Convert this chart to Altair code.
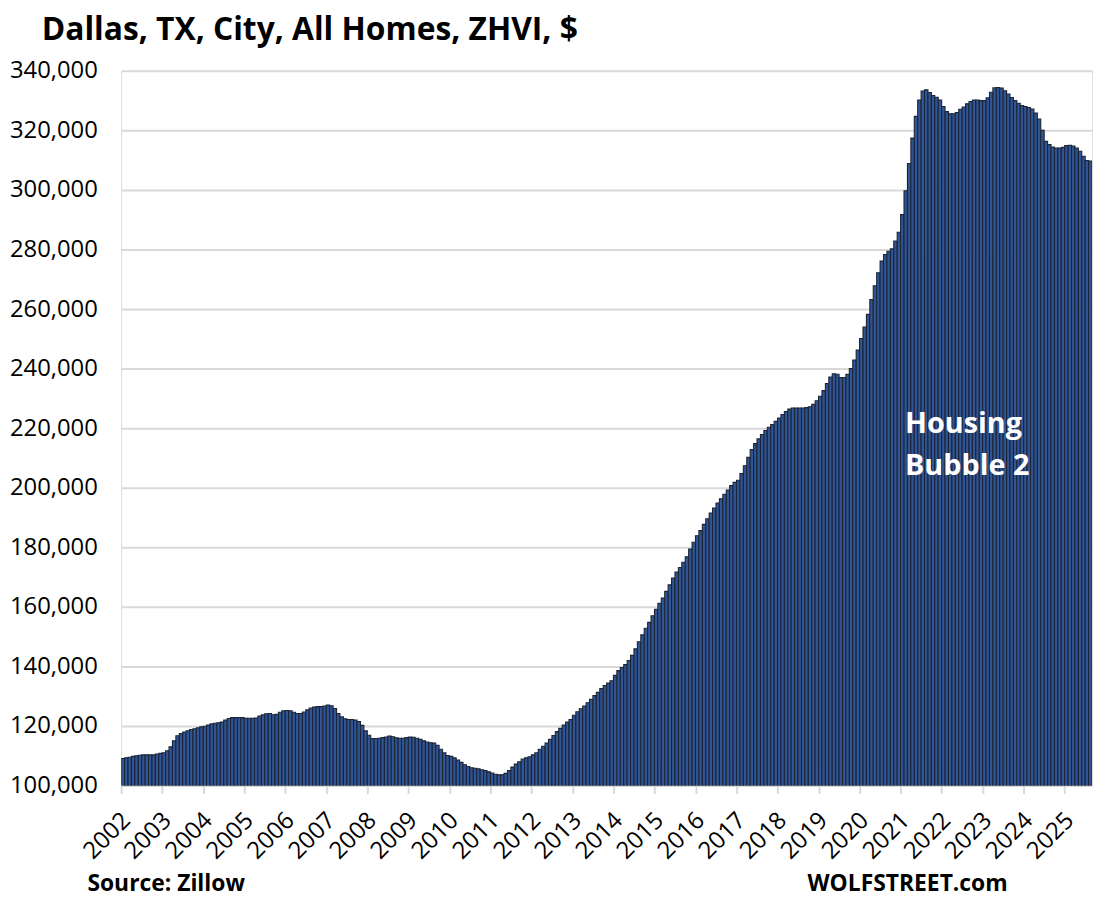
import altair as alt
import pandas as pd

# ---- data (thousands of $), Dallas ZHVI monthly from Jan 2002 ----
start_year = 2002
v2002 = [109.1, 109.3, 109.5, 109.8, 110.0, 110.2, 110.3, 110.3, 110.3, 110.3, 110.6, 110.8]
v2003 = [111.0, 111.7, 113.0, 115.0, 116.7, 117.5, 118.0, 118.4, 118.8, 119.1, 119.4, 119.7]
v2004 = [119.9, 120.3, 120.7, 120.9, 121.1, 121.3, 122.0, 122.5, 122.8, 122.8, 122.8, 122.8]
v2005 = [122.6, 122.6, 122.6, 122.7, 123.3, 123.8, 124.1, 124.2, 123.8, 123.9, 124.6, 125.1]
v2006 = [125.2, 125.1, 124.6, 124.2, 124.2, 124.7, 125.4, 126.0, 126.4, 126.5, 126.5, 126.7]
v2007 = [127.0, 126.8, 125.9, 124.2, 123.1, 122.4, 122.2, 122.2, 122.0, 121.5, 120.2, 118.4]
v2008 = [116.9, 115.8, 115.8, 115.9, 116.1, 116.3, 116.6, 116.4, 116.0, 115.9, 115.9, 116.1]
v2009 = [116.3, 116.2, 115.9, 115.5, 115.0, 114.6, 114.4, 114.3, 113.5, 112.2, 111.0, 110.1]
v2010 = [109.8, 109.3, 108.6, 107.8, 107.0, 106.4, 106.0, 105.8, 105.6, 105.3, 105.0, 104.6]
v2011 = [104.2, 103.8, 103.6, 103.6, 104.1, 105.0, 106.2, 107.2, 108.0, 108.9, 109.3, 109.7]
v2012 = [110.3, 111.0, 112.2, 113.2, 114.3, 115.5, 116.8, 118.1, 119.2, 120.3, 121.3, 122.2]
v2013 = [123.6, 124.8, 125.8, 126.7, 127.8, 129.0, 130.2, 131.3, 132.6, 133.6, 134.4, 135.2]
v2014 = [137.0, 138.6, 139.6, 140.6, 142.0, 143.7, 145.9, 148.3, 150.6, 152.8, 154.8, 157.0]
v2015 = [159.2, 161.2, 163.0, 165.2, 167.4, 169.7, 171.7, 173.2, 175.0, 176.8, 179.4, 181.7]
v2016 = [183.9, 185.6, 187.7, 189.6, 191.5, 193.2, 194.9, 196.3, 197.8, 199.2, 200.7, 201.8]
v2017 = [202.5, 204.8, 207.4, 210.2, 212.8, 214.8, 216.4, 217.9, 219.2, 220.3, 221.2, 222.3]
v2018 = [223.4, 224.6, 225.6, 226.4, 226.8, 226.8, 226.8, 226.8, 226.9, 227.2, 228.0, 229.2]
v2019 = [230.7, 232.6, 235.0, 237.2, 238.3, 238.1, 237.0, 237.0, 238.1, 240.0, 242.9, 246.2]
v2020 = [250.1, 254.0, 258.2, 263.2, 267.8, 272.2, 276.1, 278.3, 279.4, 280.2, 282.8, 285.8]
v2021 = [291.7, 299.7, 308.9, 317.4, 324.7, 330.2, 333.2, 333.6, 332.7, 331.7, 331.1, 330.2]
v2022 = [328.0, 326.3, 325.6, 325.6, 326.0, 327.1, 327.8, 328.9, 329.7, 330.2, 330.2, 330.0]
v2023 = [330.0, 330.9, 332.8, 334.3, 334.4, 334.2, 333.3, 332.2, 331.0, 330.0, 329.1, 328.3]
v2024 = [328.0, 327.7, 327.2, 325.8, 323.8, 320.0, 316.3, 315.2, 314.4, 314.1, 314.1, 314.3]
v2025 = [314.9, 315.0, 314.7, 314.1, 313.0, 311.3, 309.9, 309.7]

years = [v2002, v2003, v2004, v2005, v2006, v2007, v2008, v2009, v2010, v2011, v2012,
         v2013, v2014, v2015, v2016, v2017, v2018, v2019, v2020, v2021, v2022, v2023,
         v2024, v2025]

y_ticks = list(range(100000, 340001, 20000))
year_ticks = [12 * k for k in range(len(years))]

title_text = "Dallas, TX, City, All Homes, ZHVI, $"
source_text = "Source: Zillow"
brand_text = "WOLFSTREET.com"
note_lines = ["Housing", "Bubble 2"]
note_x = [229.3, 229.3]
note_y = [218300, 204300]

values = [v * 1000 for yr in years for v in yr]
df = pd.DataFrame({
    "i": list(range(len(values))),
    "i2": [k + 1 for k in range(len(values))],
    "value": values,
})

FONT = "Open Sans"
GRID = "#d9d9d9"

x_scale = alt.Scale(domain=[0, len(values)], nice=False, zero=False)
y_scale = alt.Scale(domain=[100000, 340000], nice=False, zero=False)

bars = alt.Chart(df).mark_bar(
    color="#2f5597", stroke="#1d2433", strokeWidth=1.1, clip=True
).encode(
    x=alt.X("i:Q", scale=x_scale, title=None,
            axis=alt.Axis(values=year_ticks, labelExpr="'' + (2002 + datum.value / 12)",
                          grid=False, domainColor=GRID, domainWidth=2,
                          tickColor=GRID, tickWidth=2, tickSize=8,
                          labelAngle=-45, labelAlign="right", labelBaseline="middle",
                          labelOffset=5, labelPadding=23, labelFont=FONT,
                          labelFontSize=24, labelColor="#000000", labelFlush=False,
                          labelOverlap=False)),
    x2="i2:Q",
    y=alt.Y("value:Q", scale=y_scale, title=None,
            axis=alt.Axis(values=y_ticks, format=",.0f", grid=True, gridColor=GRID,
                          gridWidth=2, domain=False, ticks=False, labelPadding=24,
                          labelFont=FONT, labelFontSize=24, labelColor="#000000")),
    y2=alt.datum(100000),
)

note_df = pd.DataFrame({"x": note_x, "y": note_y, "t": note_lines})
note = alt.Chart(note_df).mark_text(
    align="left", baseline="alphabetic", font=FONT, fontWeight="bold",
    fontSize=29, color="white"
).encode(
    x=alt.X("x:Q", scale=x_scale),
    y=alt.Y("y:Q", scale=y_scale),
    text="t:N",
)

title = alt.Chart(pd.DataFrame({"t": [title_text]})).mark_text(
    align="left", baseline="alphabetic", font=FONT, fontWeight="bold",
    fontSize=32, color="#000000"
).encode(x=alt.value(-80), y=alt.value(-31), text="t:N")

src = alt.Chart(pd.DataFrame({"t": [source_text]})).mark_text(
    align="left", baseline="alphabetic", font=FONT, fontWeight="bold",
    fontSize=23, color="#000000"
).encode(x=alt.value(-34), y=alt.value(826), text="t:N")

brand = alt.Chart(pd.DataFrame({"t": [brand_text]})).mark_text(
    align="right", baseline="alphabetic", font=FONT, fontWeight="bold",
    fontSize=23, color="#000000"
).encode(x=alt.value(893), y=alt.value(826), text="t:N")

chart = alt.layer(bars, note, title, src, brand).properties(
    width=978, height=720,
    autosize=alt.AutoSizeParams(type="none"),
    padding={"left": 114, "top": 60, "right": 6, "bottom": 110},
).configure_view(stroke=None).configure(background="white")

chart.save("out.html", embed_options={"renderer": "svg", "actions": False})
